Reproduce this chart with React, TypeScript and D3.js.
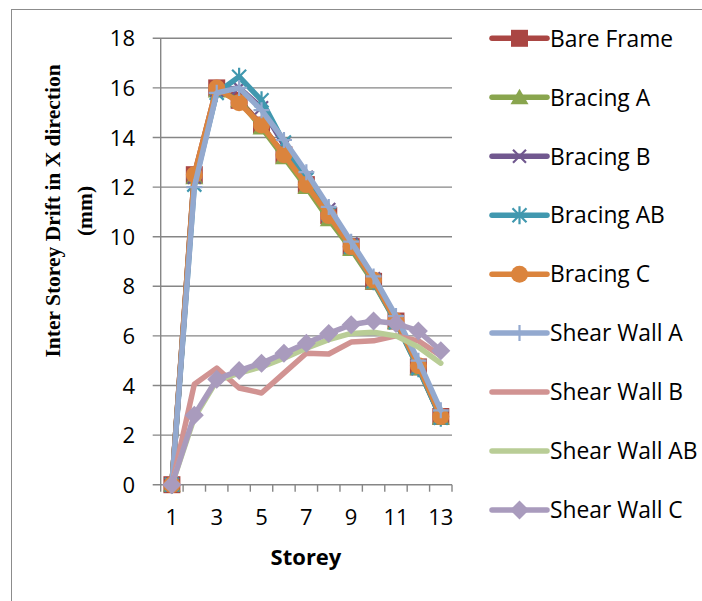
import React, { useEffect, useRef } from 'react';
import * as d3 from 'd3';

const storeys = [1, 2, 3, 4, 5, 6, 7, 8, 9, 10, 11, 12, 13];
const xTickLabels = [1, 3, 5, 7, 9, 11, 13];
const yTicks = [0, 2, 4, 6, 8, 10, 12, 14, 16, 18];

const seriesNames = [
  'Bare Frame', 'Bracing A', 'Bracing B', 'Bracing AB', 'Bracing C',
  'Shear Wall A', 'Shear Wall B', 'Shear Wall AB', 'Shear Wall C',
];
const seriesColors = [
  '#AA4643', '#89A54E', '#71588F', '#4198AF', '#DB843D',
  '#93A9CF', '#D19392', '#B9CD96', '#A99BBD',
];
const seriesMarkers = ['square', 'triangle', 'x', 'star', 'circle', 'plus', 'none', 'none', 'diamond'];

const bareFrame = [0, 12.5, 16.0, 15.5, 14.5, 13.3, 12.1, 10.85, 9.6, 8.2, 6.6, 4.75, 2.75];
const bracingA = [0, 12.4, 15.9, 15.5, 14.4, 13.2, 12.0, 10.7, 9.5, 8.15, 6.55, 4.7, 2.7];
const bracingB = [0, 12.4, 15.9, 16.0, 15.2, 13.7, 12.4, 11.1, 9.7, 8.3, 6.6, 4.75, 2.7];
const bracingAB = [0, 12.1, 15.8, 16.45, 15.5, 13.8, 12.3, 10.9, 9.6, 8.2, 6.55, 4.7, 2.7];
const bracingC = [0, 12.5, 16.0, 15.4, 14.5, 13.3, 12.1, 10.85, 9.6, 8.25, 6.6, 4.8, 2.75];
const shearWallA = [0, 12.0, 15.8, 16.0, 15.1, 13.9, 12.6, 11.2, 9.8, 8.4, 6.8, 5.0, 3.0];
const shearWallB = [0, 4.05, 4.7, 3.9, 3.7, 4.5, 5.3, 5.27, 5.75, 5.8, 6.0, 5.8, 5.2];
const shearWallAB = [0, 2.7, 4.2, 4.5, 4.75, 5.1, 5.5, 5.85, 6.1, 6.15, 6.0, 5.55, 4.9];
const shearWallC = [0, 2.8, 4.25, 4.6, 4.9, 5.3, 5.7, 6.1, 6.45, 6.6, 6.5, 6.2, 5.4];

const seriesValues = [bareFrame, bracingA, bracingB, bracingAB, bracingC, shearWallA, shearWallB, shearWallAB, shearWallC];

const W = 702;
const H = 601;

// marker outline for a given kind, centred on 0,0
function markerPath(kind: string): string {
  switch (kind) {
    case 'square': return 'M-8.5,-8.5H8.5V8.5H-8.5Z';
    case 'triangle': return 'M0,-8.5L9,7H-9Z';
    case 'diamond': return 'M0,-9.5L9.5,0L0,9.5L-9.5,0Z';
    case 'x': return 'M-6.5,-6.5L6.5,6.5M-6.5,6.5L6.5,-6.5';
    case 'star': return 'M-7,-7L7,7M-7,7L7,-7M0,-9V9';
    case 'plus': return 'M0,-8V8M-8,0H8';
    default: return '';
  }
}

function drawMarker(g: d3.Selection<SVGGElement, unknown, null, undefined>, kind: string, color: string, cx: number, cy: number) {
  if (kind === 'none') return;
  if (kind === 'circle') {
    g.append('circle').attr('cx', cx).attr('cy', cy).attr('r', 8.5).attr('fill', color);
    return;
  }
  const stroked = kind === 'x' || kind === 'star' || kind === 'plus';
  g.append('path')
    .attr('d', markerPath(kind))
    .attr('transform', `translate(${cx},${cy})`)
    .attr('fill', stroked ? 'none' : color)
    .attr('stroke', color)
    .attr('stroke-width', stroked ? 2.2 : 0);
}

const App: React.FC = () => {
  const ref = useRef<SVGSVGElement | null>(null);

  useEffect(() => {
    const svg = d3.select(ref.current);
    svg.selectAll('*').remove();

    const plot = { left: 160.7, right: 452, top: 38.3, bottom: 484.7 };
    const grid = '#868686';
    const sans = "'Open Sans', sans-serif";

    const x = d3.scaleBand<number>().domain(storeys).range([plot.left, plot.right]);
    const xc = (s: number) => (x(s) as number) + x.bandwidth() / 2;
    const y = d3.scaleLinear().domain([0, 18]).range([plot.bottom, plot.top]);

    // outer chart border
    svg.append('rect')
      .attr('x', 11.5).attr('y', 9.5)
      .attr('width', W).attr('height', H)
      .attr('fill', 'white').attr('stroke', '#8c8c8c').attr('stroke-width', 1);

    // gridlines + y ticks
    const yAxis = svg.append('g');
    yTicks.forEach(t => {
      yAxis.append('line')
        .attr('x1', plot.left - 8).attr('x2', plot.right)
        .attr('y1', y(t)).attr('y2', y(t))
        .attr('stroke', grid).attr('stroke-width', 1.4);
      yAxis.append('text')
        .attr('x', 135).attr('y', y(t) + 8)
        .attr('text-anchor', 'end')
        .attr('font-family', sans).attr('font-size', 22)
        .attr('fill', '#000')
        .text(t);
    });
    yAxis.append('line')
      .attr('x1', plot.left).attr('x2', plot.left)
      .attr('y1', plot.top).attr('y2', plot.bottom)
      .attr('stroke', grid).attr('stroke-width', 1.4);

    // x axis ticks at band edges
    const xAxis = svg.append('g');
    storeys.forEach(s => {
      const bx = x(s) as number;
      xAxis.append('line')
        .attr('x1', bx).attr('x2', bx)
        .attr('y1', plot.bottom).attr('y2', plot.bottom + 7)
        .attr('stroke', grid).attr('stroke-width', 1.4);
    });
    xAxis.append('line')
      .attr('x1', plot.right).attr('x2', plot.right)
      .attr('y1', plot.bottom).attr('y2', plot.bottom + 7)
      .attr('stroke', grid).attr('stroke-width', 1.4);
    xTickLabels.forEach(s => {
      xAxis.append('text')
        .attr('x', xc(s)).attr('y', 525)
        .attr('text-anchor', 'middle')
        .attr('font-family', sans).attr('font-size', 22)
        .text(s);
    });

    // axis titles
    svg.append('text')
      .attr('x', 306).attr('y', 565)
      .attr('text-anchor', 'middle')
      .attr('font-family', sans).attr('font-size', 22).attr('font-weight', 'bold')
      .text('Storey');

    const yTitle = svg.append('text')
      .attr('transform', 'translate(0,211) rotate(-90)')
      .attr('text-anchor', 'middle')
      .attr('font-family', "'Liberation Serif', 'Times New Roman', serif")
      .attr('font-size', 21.5).attr('font-weight', 'bold');
    yTitle.append('tspan').attr('x', 0).attr('y', 59.5).text('Inter Storey Drift in X direction');
    yTitle.append('tspan').attr('x', 0).attr('y', 92).text('(mm)');

    // series
    const line = d3.line<number>()
      .x((_, i) => xc(storeys[i]))
      .y(d => y(d));

    seriesValues.forEach((vals, k) => {
      const g = svg.append('g');
      g.append('path')
        .datum(vals)
        .attr('fill', 'none')
        .attr('stroke', seriesColors[k])
        .attr('stroke-width', 5.5)
        .attr('stroke-linejoin', 'round')
        .attr('stroke-linecap', 'round')
        .attr('d', line);
      vals.forEach((v, i) => drawMarker(g, seriesMarkers[k], seriesColors[k], xc(storeys[i]), y(v)));
    });

    // legend
    const legend = svg.append('g');
    seriesNames.forEach((name, k) => {
      const ly = 38.3 + 58.96 * k;
      legend.append('line')
        .attr('x1', 492).attr('x2', 547)
        .attr('y1', ly).attr('y2', ly)
        .attr('stroke', seriesColors[k]).attr('stroke-width', 5.5)
        .attr('stroke-linecap', 'round');
      drawMarker(legend, seriesMarkers[k], seriesColors[k], 519.5, ly);
      legend.append('text')
        .attr('x', 550).attr('y', ly + 8.3)
        .attr('font-family', sans).attr('font-size', 22.8)
        .text(name);
    });
  }, []);

  return (
    <svg
      ref={ref}
      width={W}
      height={H}
      style={{ position: 'absolute', left: 0, top: 0, background: 'white' }}
    />
  );
};

export default App;
